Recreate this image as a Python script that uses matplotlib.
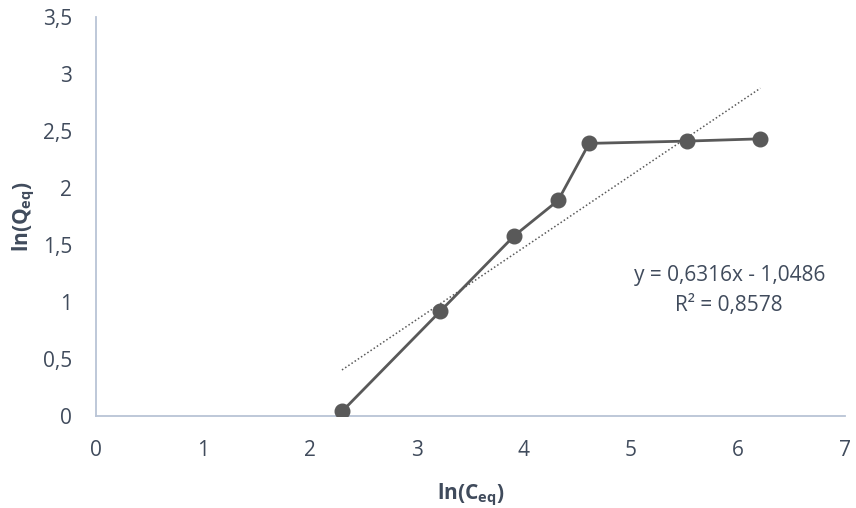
import matplotlib
matplotlib.use("Agg")
import matplotlib.pyplot as plt
import numpy as np

# Freundlich linearisation data
ln_ceq = [2.30, 3.22, 3.91, 4.32, 4.61, 5.52, 6.21]
ln_qeq = [0.04, 0.92, 1.58, 1.89, 2.39, 2.41, 2.43]

# Linear trendline coefficients
slope = 0.6316
intercept = -1.0486
r_squared = 0.8578

x_ticks = [0, 1, 2, 3, 4, 5, 6, 7]
y_ticks = [0, 0.5, 1, 1.5, 2, 2.5, 3, 3.5]

plt.rcParams['font.family'] = ['Open Sans', 'DejaVu Sans']
plt.rcParams['mathtext.fontset'] = 'custom'
plt.rcParams['mathtext.rm'] = 'Open Sans'
plt.rcParams['mathtext.bf'] = 'Open Sans:bold'

text_color = '#404B5C'
mark_color = '#595959'
axis_color = '#B9C4D6'

fig = plt.figure(figsize=(8.56, 5.08), dpi=100)
ax = fig.add_axes([0.112, 0.181, 0.875, 0.786])

ax.plot(ln_ceq, ln_qeq, color=mark_color, lw=2.0, marker='o',
        markersize=10.5, markerfacecolor=mark_color, markeredgecolor=mark_color,
        zorder=3)

xt = np.array([ln_ceq[0], ln_ceq[-1]])
ax.plot(xt, slope * xt + intercept, color=mark_color, lw=1.1,
        linestyle=(0, (1, 1.5)), zorder=2)

def fmt(v):
    s = f"{v:g}"
    return s.replace('.', ',')

ax.set_xlim(0, 7)
ax.set_ylim(0, 3.5)
ax.set_xticks(x_ticks)
ax.set_xticklabels([fmt(v) for v in x_ticks])
ax.set_yticks(y_ticks)
ax.set_yticklabels([fmt(v) for v in y_ticks])
ax.tick_params(axis='both', length=0, labelsize=15, colors=text_color)
ax.tick_params(axis='x', pad=17)
ax.tick_params(axis='y', pad=17)

for side in ['top', 'right']:
    ax.spines[side].set_visible(False)
for side in ['left', 'bottom']:
    ax.spines[side].set_color(axis_color)
    ax.spines[side].set_linewidth(1.3)

ax.set_xlabel(r'$\mathbf{ln(C_{eq})}$', fontsize=15, color=text_color, va='center')
ax.set_ylabel(r'$\mathbf{ln(Q_{eq})}$', fontsize=15, color=text_color, va='center')
ax.xaxis.set_label_coords(0.5, -0.198)
ax.yaxis.set_label_coords(-0.096, 0.5)

eq = f"y = {fmt(slope)}x - {fmt(-intercept)}"
ax.text(5.92, 1.23, eq, ha='center', va='center', fontsize=15, color=text_color)
ax.text(5.92, 0.97, f"R² = {fmt(r_squared)}", ha='center', va='center',
        fontsize=15, color=text_color)

fig.savefig('out.png', dpi=100)
